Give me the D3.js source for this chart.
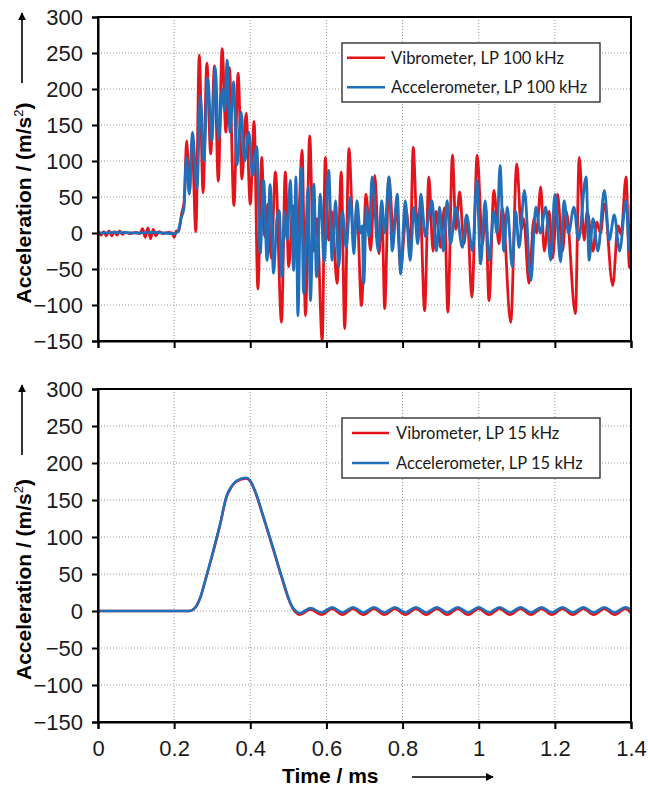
<!DOCTYPE html>
<html>
<head>
<meta charset="utf-8">
<script src="https://cdn.jsdelivr.net/npm/d3@7/dist/d3.min.js"></script>
<style>
  body { margin: 0; background: #fff; }
  svg { display: block; }
</style>
</head>
<body>
<div id="chart"></div>
<script>
// time in ms, acceleration in m/s^2 (extrema)
const vibro100 = [
  [0.000, 2], [0.008, -3], [0.015, 2], [0.022, -4], [0.029, 3], [0.036, -4], [0.043, 2], [0.050, -3],
  [0.057, 3], [0.064, -2], [0.072, 1], [0.085, -1], [0.100, 1], [0.110, -1], [0.117, 6], [0.124, -6],
  [0.131, 7], [0.138, -8], [0.145, 5], [0.152, -4], [0.160, 2], [0.170, -1], [0.185, 1], [0.195, 0],
  [0.200, -6], [0.206, 3], [0.212, 2], [0.220, 28], [0.226, 42], [0.233, 128], [0.240, 55], [0.247, 128],
  [0.257, 2], [0.266, 247], [0.276, 56], [0.286, 236], [0.296, 110], [0.306, 232], [0.316, 72], [0.326, 256],
  [0.336, 140], [0.345, 230], [0.357, 38], [0.368, 222], [0.378, 75], [0.389, 166], [0.400, 40], [0.410, 155],
  [0.420, -78], [0.430, 105], [0.438, -5], [0.446, 40], [0.455, -35], [0.466, 85], [0.482, -124], [0.492, 85],
  [0.501, -47], [0.512, 38], [0.520, -20], [0.528, 30], [0.536, 115], [0.545, -115], [0.556, 135], [0.566, -25],
  [0.575, 20], [0.589, -150], [0.597, 105], [0.606, -10], [0.614, 30], [0.628, -70], [0.639, 85], [0.648, -133],
  [0.659, 117], [0.672, -15], [0.680, 36], [0.692, -101], [0.704, 54], [0.716, -24], [0.727, 80], [0.738, -29],
  [0.746, 30], [0.753, -105], [0.764, 78], [0.776, 0], [0.784, 36], [0.795, -50], [0.810, 30], [0.820, -25],
  [0.828, 119], [0.838, 10], [0.846, 35], [0.858, -108], [0.869, 78], [0.880, -25], [0.888, 30], [0.900, -20],
  [0.910, 35], [0.919, -110], [0.931, 108], [0.940, 5], [0.950, 57], [0.961, -15], [0.970, 20], [0.982, -89],
  [0.996, 108], [1.010, -15], [1.018, 35], [1.027, -94], [1.040, 59], [1.053, -15], [1.062, 35], [1.084, -124],
  [1.100, 96], [1.112, 5], [1.118, 20], [1.132, -70], [1.145, 20], [1.152, 0], [1.163, 64], [1.172, -25],
  [1.185, 30], [1.194, -35], [1.207, 54], [1.220, -25], [1.230, 30], [1.254, -112], [1.264, 105], [1.277, -10],
  [1.285, 30], [1.300, -25], [1.310, 15], [1.320, 0], [1.330, 40], [1.352, -73], [1.366, 10], [1.374, -2],
  [1.387, 78], [1.396, -48], [1.400, 40]
];

const accel100 = [
  [0.000, 0], [0.050, 1], [0.100, 0], [0.150, 1], [0.200, -1], [0.210, 2], [0.218, 20], [0.226, 35],
  [0.232, 105], [0.240, 54], [0.248, 140], [0.260, 62], [0.269, 190], [0.278, 100], [0.288, 215], [0.299, 128],
  [0.308, 230], [0.317, 130], [0.327, 200], [0.333, 170], [0.339, 240], [0.347, 140], [0.356, 210], [0.365, 94],
  [0.376, 168], [0.385, 100], [0.396, 140], [0.406, 80], [0.417, 120], [0.426, -29], [0.435, 73], [0.444, -38],
  [0.452, 67], [0.461, -56], [0.470, 20], [0.476, 31], [0.483, -61], [0.490, 30], [0.497, -10], [0.505, 73],
  [0.514, -52], [0.520, 78], [0.525, -115], [0.534, 91], [0.540, -84], [0.552, 64], [0.558, -94], [0.567, 68],
  [0.574, -61], [0.584, 54], [0.594, -40], [0.606, 87], [0.615, -38], [0.624, 45], [0.632, -47], [0.642, 30],
  [0.652, -20], [0.663, 50], [0.672, -29], [0.680, 45], [0.689, 0], [0.694, 10], [0.698, -70], [0.705, 36],
  [0.712, -5], [0.720, 78], [0.736, -25], [0.745, 45], [0.753, 0], [0.764, 78], [0.773, -25], [0.786, 54],
  [0.795, -57], [0.807, 45], [0.820, -38], [0.830, 36], [0.840, -15], [0.848, 54], [0.860, -5], [0.868, 20],
  [0.877, 45], [0.889, -25], [0.897, 36], [0.907, -25], [0.917, 45], [0.926, -15], [0.940, 36], [0.957, -20],
  [0.968, 25], [0.984, -25], [0.995, 73], [1.005, -43], [1.017, 45], [1.027, -38], [1.040, 30], [1.048, 0],
  [1.056, 94], [1.066, -25], [1.075, 36], [1.088, -47], [1.097, 30], [1.106, -20], [1.120, 59], [1.137, -66],
  [1.150, 36], [1.162, 0], [1.176, 36], [1.189, -38], [1.200, 54], [1.215, -40], [1.224, 45], [1.236, 0],
  [1.250, 36], [1.262, -10], [1.282, 78], [1.290, -38], [1.300, 20], [1.313, -25], [1.330, 59], [1.343, -10],
  [1.356, 25], [1.370, -25], [1.387, 45], [1.396, -25], [1.400, -20]
];

const vibro15 = [
  [0.000, 0], [0.100, 0], [0.200, 0], [0.240, 0], [0.250, 2], [0.260, 8], [0.270, 20], [0.280, 38],
  [0.300, 75], [0.320, 115], [0.338, 155], [0.350, 167], [0.364, 175], [0.389, 179], [0.400, 175], [0.415, 158],
  [0.430, 134], [0.445, 109], [0.460, 84], [0.475, 58], [0.490, 33], [0.500, 17], [0.510, 5], [0.520, -2],
  [0.530, -5], [0.558, 2], [0.587, -5],
  [0.615, 3], [0.642, -5], [0.670, 3], [0.697, -5], [0.725, 3], [0.752, -5], [0.780, 3], [0.807, -5],
  [0.835, 3], [0.862, -5], [0.890, 3], [0.917, -5], [0.945, 3], [0.972, -5], [1.000, 3], [1.027, -5],
  [1.055, 3], [1.082, -5], [1.110, 3], [1.137, -5], [1.165, 3], [1.192, -5], [1.220, 3], [1.247, -5],
  [1.275, 3], [1.302, -5], [1.330, 3], [1.357, -5], [1.385, 3], [1.400, -3]
];

const accel15 = [
  [0.000, 0], [0.100, 0], [0.200, 0], [0.240, 0], [0.250, 2], [0.260, 8], [0.270, 20], [0.280, 38],
  [0.300, 76], [0.320, 116], [0.338, 156], [0.350, 168], [0.364, 176], [0.389, 180], [0.400, 176], [0.415, 159],
  [0.430, 135], [0.445, 110], [0.460, 85], [0.475, 59], [0.490, 34], [0.500, 18], [0.510, 6], [0.520, 0],
  [0.530, -3], [0.558, 4], [0.587, -2],
  [0.615, 5], [0.642, -2], [0.670, 5], [0.697, -2], [0.725, 5], [0.752, -2], [0.780, 5], [0.807, -2],
  [0.835, 5], [0.862, -2], [0.890, 5], [0.917, -2], [0.945, 5], [0.972, -2], [1.000, 5], [1.027, -2],
  [1.055, 5], [1.082, -2], [1.110, 5], [1.137, -2], [1.165, 5], [1.192, -2], [1.220, 5], [1.247, -2],
  [1.275, 5], [1.302, -2], [1.330, 5], [1.357, -2], [1.385, 5], [1.400, 2]
];

const xTicks = [0, 0.2, 0.4, 0.6, 0.8, 1, 1.2, 1.4];
const yTicks = [-150, -100, -50, 0, 50, 100, 150, 200, 250, 300];
const legendTop = ["Vibrometer, LP 100 kHz", "Accelerometer, LP 100 kHz"];
const legendBottom = ["Vibrometer, LP 15 kHz", "Accelerometer, LP 15 kHz"];

const red = "#e4141b";
const blue = "#1f6fba";
const width = 648, height = 794;
const left = 98, right = 631;

const svg = d3.select("#chart").append("svg")
  .attr("width", width)
  .attr("height", height)
  .style("font-family", "'Liberation Sans', Arial, sans-serif");

svg.append("defs").append("marker")
  .attr("id", "arrow")
  .attr("viewBox", "0 0 10 10")
  .attr("refX", 9).attr("refY", 5)
  .attr("markerWidth", 8).attr("markerHeight", 8)
  .attr("markerUnits", "userSpaceOnUse")
  .attr("orient", "auto")
  .append("path").attr("d", "M0,0L10,5L0,10z").attr("fill", "#000");

const x = d3.scaleLinear().domain([0, 1.4]).range([left, right]);

function panel(id, top, bottom, series, labels, lineWidth, showXLabels, legendBox) {
  const y = d3.scaleLinear().domain([-150, 300]).range([bottom, top]);
  const g = svg.append("g");

  // dotted grid
  g.append("g").selectAll("line").data(yTicks.slice(1, -1)).join("line")
    .attr("x1", left).attr("x2", right)
    .attr("y1", d => y(d)).attr("y2", d => y(d))
    .attr("stroke", "#9a9a9a").attr("stroke-width", 1).attr("stroke-dasharray", "1,2");
  g.append("g").selectAll("line").data(xTicks.slice(1, -1)).join("line")
    .attr("y1", top).attr("y2", bottom)
    .attr("x1", d => x(d)).attr("x2", d => x(d))
    .attr("stroke", "#9a9a9a").attr("stroke-width", 1).attr("stroke-dasharray", "1,2");

  g.append("clipPath").attr("id", id)
    .append("rect").attr("x", left).attr("y", top - 2)
    .attr("width", right - left).attr("height", bottom - top + 4);

  const line = d3.line()
    .x(d => x(d[0]))
    .y(d => y(d[1]))
    .curve(d3.curveMonotoneX);

  g.append("g").attr("clip-path", `url(#${id})`)
    .selectAll("path").data(series).join("path")
    .attr("d", d => line(d.values))
    .attr("fill", "none")
    .attr("stroke", d => d.color)
    .attr("stroke-width", lineWidth)
    .attr("stroke-linejoin", "round");

  // frame
  g.append("rect")
    .attr("x", left).attr("y", top)
    .attr("width", right - left).attr("height", bottom - top)
    .attr("fill", "none").attr("stroke", "#000").attr("stroke-width", 2);

  const yAxis = g.append("g")
    .attr("transform", `translate(${left},0)`)
    .call(d3.axisLeft(y).tickValues(yTicks).tickSize(6).tickPadding(9));
  const xAxis = g.append("g")
    .attr("transform", `translate(0,${bottom})`)
    .call(d3.axisBottom(x).tickValues(xTicks).tickSize(7).tickPadding(8)
      .tickFormat(showXLabels ? d3.format("") : () => ""));

  [yAxis, xAxis].forEach(a => {
    a.select(".domain").attr("stroke-width", 2);
    a.selectAll(".tick line").attr("stroke-width", 2);
    a.selectAll(".tick text")
      .attr("fill", "#1a1a1a")
      .style("font-size", "22px")
      .style("font-family", "'Liberation Sans', Arial, sans-serif");
  });
  xAxis.selectAll(".tick text").attr("dy", "0.85em");

  // y axis title with arrow
  const cy = (top + bottom) / 2 + 24;
  const title = g.append("text")
    .attr("transform", `translate(31,${cy}) rotate(-90)`)
    .attr("text-anchor", "middle")
    .style("font-size", "21px").style("font-weight", "bold");
  title.append("tspan").text("Acceleration / (m/s");
  title.append("tspan").text("2").attr("dy", "-8").style("font-size", "13px").style("font-weight", "normal");
  title.append("tspan").text(")").attr("dy", "8");
  g.append("line")
    .attr("x1", 22).attr("x2", 22)
    .attr("y1", top + 66).attr("y2", top - 4)
    .attr("stroke", "#000").attr("stroke-width", 1.6)
    .attr("marker-end", "url(#arrow)");

  // legend
  const [lx, ly, lw, lh, lineX0, lineX1, textX] = legendBox;
  const lg = g.append("g");
  lg.append("rect")
    .attr("x", lx).attr("y", ly).attr("width", lw).attr("height", lh)
    .attr("fill", "#fff").attr("stroke", "#222").attr("stroke-width", 1.3);
  const rowH = lh / 2;
  const item = lg.selectAll("g").data(series).join("g")
    .attr("transform", (d, i) => `translate(0,${ly + rowH * (i + 0.5)})`);
  item.append("line")
    .attr("x1", lineX0).attr("x2", lineX1)
    .attr("stroke", d => d.color).attr("stroke-width", 2.5);
  item.append("text")
    .attr("x", textX).attr("dy", "0.35em")
    .style("font-family", "Lato, 'Open Sans', sans-serif")
    .style("font-size", "16.5px")
    .attr("fill", "#1a1a1a")
    .text((d, i) => labels[i]);
}

panel("clipTop", 17, 341,
  [{values: vibro100, color: red}, {values: accel100, color: blue}],
  legendTop, 2.8, false, [342, 43, 258, 59, 347, 385, 391]);

panel("clipBottom", 389, 722,
  [{values: vibro15, color: red}, {values: accel15, color: blue}],
  legendBottom, 2.6, true, [342, 418, 258, 60, 352, 389, 396]);

// x axis title with arrow
svg.append("text")
  .attr("x", 282).attr("y", 783)
  .style("font-size", "21px").style("font-weight", "bold")
  .text("Time / ms");
svg.append("line")
  .attr("x1", 412).attr("x2", 493)
  .attr("y1", 777).attr("y2", 777)
  .attr("stroke", "#000").attr("stroke-width", 1.6)
  .attr("marker-end", "url(#arrow)");
</script>
</body>
</html>
